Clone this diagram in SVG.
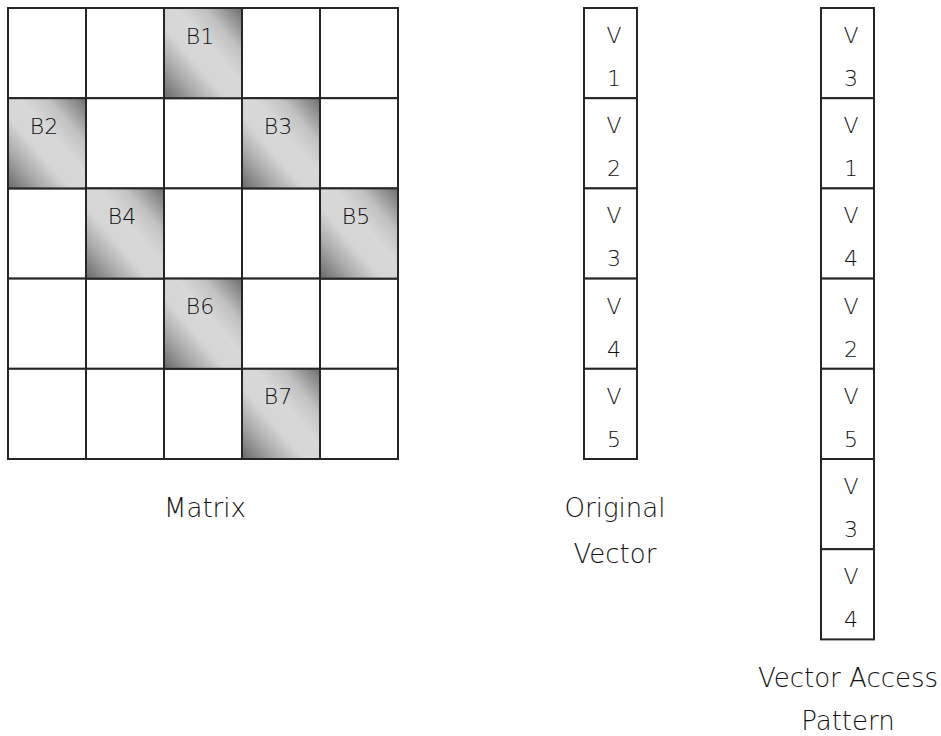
<svg xmlns="http://www.w3.org/2000/svg" width="941" height="736" viewBox="0 0 941 736">
<defs>
<linearGradient id="shade" x1="1" y1="0" x2="0" y2="1">
<stop offset="0" stop-color="#6e6e6e"/>
<stop offset="0.25" stop-color="#c2c2c2"/>
<stop offset="0.42" stop-color="#d8d8d8"/>
<stop offset="0.6" stop-color="#d6d6d6"/>
<stop offset="0.78" stop-color="#aaaaaa"/>
<stop offset="1" stop-color="#686868"/>
</linearGradient>
</defs>
<style>
.c{fill:#fff;stroke:#262626;stroke-width:2}
.s{fill:url(#shade);stroke:#262626;stroke-width:2}
.t{font-family:"DejaVu Sans",sans-serif;font-size:22px;fill:#111;text-anchor:middle;font-weight:200}
.cap{font-family:"DejaVu Sans",sans-serif;font-size:26px;fill:#111;text-anchor:middle;font-weight:200}
</style>
<rect width="941" height="736" fill="#fff"/>
<g id="matrix">
<rect class="c" x="8" y="8" width="78" height="90.2"/>
<rect class="c" x="86" y="8" width="78" height="90.2"/>
<rect class="c" x="242" y="8" width="78" height="90.2"/>
<rect class="c" x="320" y="8" width="78" height="90.2"/>
<rect class="c" x="86" y="98.2" width="78" height="90.2"/>
<rect class="c" x="164" y="98.2" width="78" height="90.2"/>
<rect class="c" x="320" y="98.2" width="78" height="90.2"/>
<rect class="c" x="8" y="188.4" width="78" height="90.2"/>
<rect class="c" x="164" y="188.4" width="78" height="90.2"/>
<rect class="c" x="242" y="188.4" width="78" height="90.2"/>
<rect class="c" x="8" y="278.6" width="78" height="90.2"/>
<rect class="c" x="86" y="278.6" width="78" height="90.2"/>
<rect class="c" x="242" y="278.6" width="78" height="90.2"/>
<rect class="c" x="320" y="278.6" width="78" height="90.2"/>
<rect class="c" x="8" y="368.8" width="78" height="90.2"/>
<rect class="c" x="86" y="368.8" width="78" height="90.2"/>
<rect class="c" x="164" y="368.8" width="78" height="90.2"/>
<rect class="c" x="320" y="368.8" width="78" height="90.2"/>
</g>
<g id="B1"><rect class="s" x="164" y="8" width="78" height="90.2"/><text class="t" x="200" y="44">B1</text></g>
<g id="B2"><rect class="s" x="8" y="98.2" width="78" height="90.2"/><text class="t" x="44" y="134">B2</text></g>
<g id="B3"><rect class="s" x="242" y="98.2" width="78" height="90.2"/><text class="t" x="278" y="134">B3</text></g>
<g id="B4"><rect class="s" x="86" y="188.4" width="78" height="90.2"/><text class="t" x="122" y="224">B4</text></g>
<g id="B5"><rect class="s" x="320" y="188.4" width="78" height="90.2"/><text class="t" x="356" y="224">B5</text></g>
<g id="B6"><rect class="s" x="164" y="278.6" width="78" height="90.2"/><text class="t" x="200" y="314">B6</text></g>
<g id="B7"><rect class="s" x="242" y="368.8" width="78" height="90.2"/><text class="t" x="278" y="404">B7</text></g>
<text class="cap" x="205" y="517">Matrix</text>

<g id="original-vector">
<g id="ov1"><rect class="c" x="584" y="8" width="53" height="90.2"/><text class="t" x="614" y="43">V</text><text class="t" x="614" y="86">1</text></g>
<g id="ov2"><rect class="c" x="584" y="98.2" width="53" height="90.2"/><text class="t" x="614" y="133.2">V</text><text class="t" x="614" y="176.2">2</text></g>
<g id="ov3"><rect class="c" x="584" y="188.4" width="53" height="90.2"/><text class="t" x="614" y="223.4">V</text><text class="t" x="614" y="266.4">3</text></g>
<g id="ov4"><rect class="c" x="584" y="278.6" width="53" height="90.2"/><text class="t" x="614" y="313.6">V</text><text class="t" x="614" y="356.6">4</text></g>
<g id="ov5"><rect class="c" x="584" y="368.8" width="53" height="90.2"/><text class="t" x="614" y="403.8">V</text><text class="t" x="614" y="446.8">5</text></g>
</g>
<text class="cap" x="615" y="517">Original</text>
<text class="cap" x="615" y="563">Vector</text>

<g id="access-pattern">
<g id="ap1"><rect class="c" x="821" y="8" width="53" height="90.2"/><text class="t" x="851" y="43">V</text><text class="t" x="851" y="86">3</text></g>
<g id="ap2"><rect class="c" x="821" y="98.2" width="53" height="90.2"/><text class="t" x="851" y="133.2">V</text><text class="t" x="851" y="176.2">1</text></g>
<g id="ap3"><rect class="c" x="821" y="188.4" width="53" height="90.2"/><text class="t" x="851" y="223.4">V</text><text class="t" x="851" y="266.4">4</text></g>
<g id="ap4"><rect class="c" x="821" y="278.6" width="53" height="90.2"/><text class="t" x="851" y="313.6">V</text><text class="t" x="851" y="356.6">2</text></g>
<g id="ap5"><rect class="c" x="821" y="368.8" width="53" height="90.2"/><text class="t" x="851" y="403.8">V</text><text class="t" x="851" y="446.8">5</text></g>
<g id="ap6"><rect class="c" x="821" y="459" width="53" height="90.2"/><text class="t" x="851" y="494">V</text><text class="t" x="851" y="537">3</text></g>
<g id="ap7"><rect class="c" x="821" y="549.2" width="53" height="90.2"/><text class="t" x="851" y="584.2">V</text><text class="t" x="851" y="627.2">4</text></g>
</g>
<text class="cap" x="848" y="687">Vector Access</text>
<text class="cap" x="848" y="730">Pattern</text>
</svg>
